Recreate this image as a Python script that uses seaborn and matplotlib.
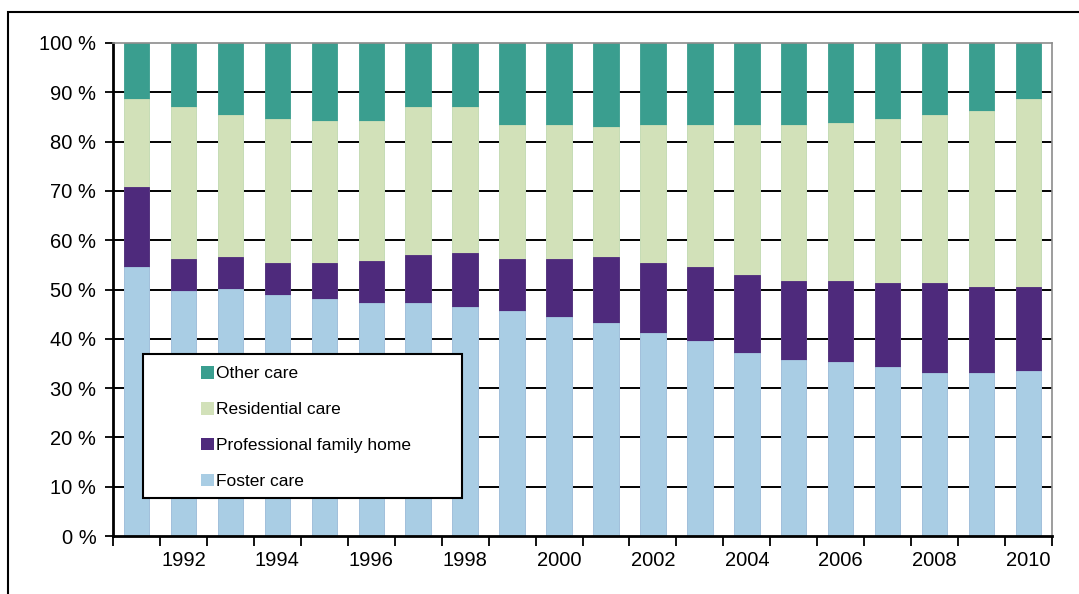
import numpy as np
import pandas as pd
import matplotlib
matplotlib.use("Agg")
import matplotlib.pyplot as plt
from matplotlib.patches import Rectangle, Patch
import seaborn as sns

# Share of children in out-of-home care by placement type (%), 1991-2010
years = [str(y) for y in range(1991, 2011)]
foster_care = [54.6, 49.7, 50.1, 48.9, 48.1, 47.3, 47.3, 46.5, 45.6, 44.5,
               43.3, 41.2, 39.6, 37.2, 35.6, 35.2, 34.3, 33.1, 33.1, 33.5]
professional_family_home = [16.1, 6.5, 6.5, 6.5, 7.3, 8.5, 9.7, 10.9, 10.6, 11.7,
                            13.3, 14.2, 15.0, 15.7, 16.1, 16.5, 17.0, 18.2, 17.4, 17.0]
residential_care = [17.9, 30.8, 28.8, 29.2, 28.8, 28.4, 30.0, 29.6, 27.2, 27.2,
                    26.4, 28.0, 28.8, 30.5, 31.7, 32.1, 33.3, 34.1, 35.7, 38.1]
other_care = [11.4, 13.0, 14.6, 15.4, 15.8, 15.8, 13.0, 13.0, 16.6, 16.6,
              17.0, 16.6, 16.6, 16.6, 16.6, 16.2, 15.4, 14.6, 13.8, 11.4]

series_names = ["Foster care", "Professional family home", "Residential care", "Other care"]
series_values = [foster_care, professional_family_home, residential_care, other_care]
series_colors = ["#A9CDE4", "#4E2A7C", "#D2E1B9", "#3A9E8F"]

W, H = 1079, 594
plt.rcParams["font.family"] = ["Liberation Sans", "DejaVu Sans"]
fig = plt.figure(figsize=(W / 100, H / 100), dpi=100)
ax = fig.add_axes([113 / W, (H - 536) / H, (1052 - 113) / W, (536 - 43) / H])

# Stacked bars: draw cumulative totals, tallest first
df = pd.DataFrame({"year": years})
cum = np.zeros(len(years))
cums = []
for vals in series_values:
    cum = cum + np.array(vals)
    cums.append(cum.copy())
for name, total, color in reversed(list(zip(series_names, cums, series_colors))):
    df["total"] = total
    sns.barplot(data=df, x="year", y="total", color=color, width=0.54,
                saturation=1, edgecolor=color, linewidth=0.6, ax=ax, zorder=2)

ax.set_xlim(-0.5, len(years) - 0.5)
ax.set_ylim(0, 100)
ax.set_xlabel("")
ax.set_ylabel("")

# Horizontal gridlines behind the bars
yt = np.arange(0, 101, 10)
for v in yt[1:-1]:
    ax.axhline(v, color="black", lw=1.4, zorder=0.5)

ax.set_yticks(yt)
ax.set_yticklabels([f"{v} %" for v in yt], fontsize=14.5)
ax.tick_params(axis="y", length=6, width=1.3, color="black", pad=6)

idx = np.arange(len(years))
ax.set_xticks(idx[1::2])
ax.set_xticklabels(years[1::2], fontsize=14.5)
ax.set_xticks(np.arange(-0.5, len(years)), minor=True)
ax.tick_params(axis="x", which="major", length=0, pad=11)
ax.tick_params(axis="x", which="minor", length=7, width=1.3, color="black")

for side in ["left", "bottom"]:
    ax.spines[side].set_color("black")
    ax.spines[side].set_linewidth(2)
for side in ["top", "right"]:
    ax.spines[side].set_color("#8C8C8C")
    ax.spines[side].set_linewidth(1.2)

# Legend in a wide framed box
box = Rectangle((143, H - 498), 462 - 143, 498 - 354, transform=None,
                facecolor="white", edgecolor="black", lw=1.5, zorder=5)
fig.add_artist(box)
handles = [Patch(facecolor=c, edgecolor="none") for c in reversed(series_colors)]
leg = fig.legend(handles, list(reversed(series_names)), loc="center left",
                 bbox_to_anchor=(192 / W, (H - 427.5) / H), frameon=False,
                 fontsize=12.5, handlelength=0.75, handleheight=0.75,
                 handletextpad=0.15, labelspacing=1.18, borderpad=0)
leg.set_zorder(6)

# Outer chart border
fig.add_artist(Rectangle((7.5, -20), W + 20, H - 12 + 20, transform=None,
                         facecolor="none", edgecolor="black", lw=1.5))

fig.savefig("out.png", dpi=100)
